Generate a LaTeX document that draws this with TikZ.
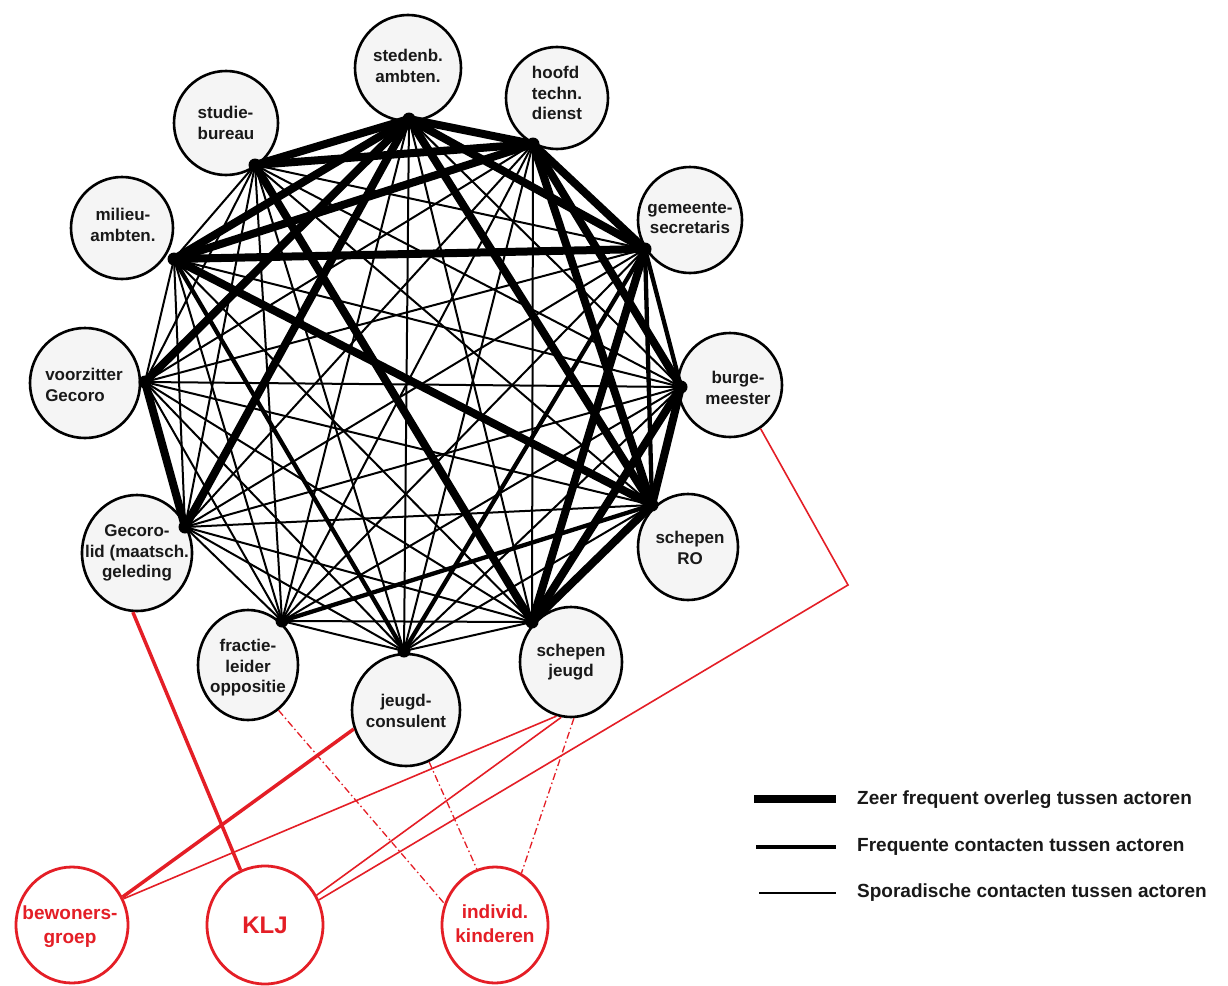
\documentclass[tikz,border=0pt]{standalone}
\usepackage{fontspec}
\setmainfont{Liberation Sans}
\usetikzlibrary{shapes.geometric}
\definecolor{lred}{RGB}{228,30,38}
\definecolor{cfill}{RGB}{245,245,245}
\tikzset{
  actor/.style={ellipse, draw=black, line width=2.6pt, fill=cfill, inner sep=0pt},
  ractor/.style={ellipse, draw=lred, line width=2.8pt, fill=white, inner sep=0pt},
  ntext/.style={inner sep=0pt, align=center, font=\fontsize{17}{20.5}\selectfont\bfseries, text=black!90},
  rtext/.style={inner sep=0pt, align=center, font=\fontsize{19}{24}\selectfont\bfseries, text=lred},
  ltext/.style={inner sep=0pt, anchor=west, font=\fontsize{19}{22}\selectfont\bfseries, text=black!90},
  vthick/.style={line width=8pt, line cap=round},
  freq/.style={line width=4.3pt, line cap=round},
  spor/.style={line width=2pt},
  rthick/.style={draw=lred, line width=3.5pt},
  rthin/.style={draw=lred, line width=1.6pt},
  rdash/.style={draw=lred, line width=1.3pt, dash pattern=on 7pt off 3pt on 1.5pt off 3pt},
}
\begin{document}
\begin{tikzpicture}[x=1pt,y=-1pt]
\useasboundingbox (0,0) rectangle (1228,985);
\fill[white] (0,0) rectangle (1228,985);

% actor circles
\node[actor, minimum width=106pt, minimum height=106pt] (sted) at (408,68) {};
\node[actor, minimum width=102pt, minimum height=102pt] (hoofd) at (557,98) {};
\node[actor, minimum width=104pt, minimum height=106pt] (gem) at (690,220) {};
\node[actor, minimum width=104pt, minimum height=104pt] (burg) at (730,385) {};
\node[actor, minimum width=100pt, minimum height=106pt] (sro) at (688,547) {};
\node[actor, minimum width=102pt, minimum height=110pt] (sjeugd) at (571,662) {};
\node[actor, minimum width=108pt, minimum height=112pt] (jc) at (406,710) {};
\node[actor, minimum width=100pt, minimum height=110pt] (fract) at (248,665) {};
\node[actor, minimum width=110pt, minimum height=116pt] (glid) at (137,553) {};
\node[actor, minimum width=110pt, minimum height=110pt] (voorz) at (85,383) {};
\node[actor, minimum width=102pt, minimum height=102pt] (milieu) at (122,228) {};
\node[actor, minimum width=104pt, minimum height=104pt] (studie) at (226,123) {};

% texts
\node[ntext] (sted-t) at (408,66) {stedenb.\\ambten.};
\node[ntext, align=left] (hoofd-t) at (557,93) {hoofd\\techn.\\dienst};
\node[ntext] (gem-t) at (690,218) {gemeente-\\secretaris};
\node[ntext] (burg-t) at (738,388) {burge-\\meester};
\node[ntext] (sro-t) at (690,548) {schepen\\RO};
\node[ntext] (sjeugd-t) at (571,662) {schepen\\jeugd};
\node[ntext] (jc-t) at (406,711) {jeugd-\\consulent};
\node[ntext] (fract-t) at (248,668) {fractie-\\leider\\oppositie};
\node[ntext] (glid-t) at (137,553) {Gecoro-\\lid (maatsch.\\geleding};
\node[ntext, align=left] (voorz-t) at (84,385) {voorzitter\\Gecoro};
\node[ntext] (milieu-t) at (123,225) {milieu-\\ambten.};
\node[ntext, align=left] (studie-t) at (226,123) {studie-\\bureau};

% vertices
\coordinate (vA) at (409,119);
\coordinate (vB) at (533,144);
\coordinate (vC) at (645,249);
\coordinate (vD) at (681,387);
\coordinate (vE) at (652,505);
\coordinate (vF) at (532,622);
\coordinate (vG) at (404,651);
\coordinate (vH) at (282,621);
\coordinate (vI) at (185,527);
\coordinate (vJ) at (145,382);
\coordinate (vK) at (174,259);
\coordinate (vL) at (255,165);

% sporadic contacts
\foreach \a/\b in {vA/vD, vA/vF, vA/vG, vA/vH, vB/vF, vB/vG, vB/vH, vB/vI, vB/vJ,
  vC/vH, vC/vI, vC/vJ, vC/vL, vD/vG, vD/vH, vD/vI, vD/vJ, vD/vK, vD/vL,
  vE/vG, vE/vI, vE/vJ, vE/vL, vF/vG, vF/vH, vF/vI, vF/vJ, vF/vK,
  vG/vH, vG/vI, vG/vJ, vG/vL, vH/vI, vH/vJ, vH/vK, vH/vL, vI/vK, vI/vL, vJ/vK, vJ/vL, vK/vL}
  \draw[spor] (\a) -- (\b);
% frequent contacts
\foreach \a/\b in {vC/vD, vC/vE, vC/vG, vG/vK, vE/vH}
  \draw[freq] (\a) -- (\b);
% very frequent
\foreach \a/\b in {vA/vB, vA/vC, vA/vE, vA/vI, vA/vJ, vA/vK, vA/vL, vB/vC, vB/vD, vB/vE,
  vB/vK, vB/vL, vC/vK, vC/vF, vD/vE, vD/vF, vE/vF, vE/vK, vF/vL, vI/vJ}
  \draw[vthick] (\a) -- (\b);
\foreach \v in {vA,vB,vC,vD,vE,vF,vG,vH,vI,vJ,vK,vL}
  \fill (\v) circle (6.5pt);

% red actors
\node[ractor, minimum width=112pt, minimum height=116pt] (bew) at (72,925) {};
\node[ractor, minimum width=116pt, minimum height=118pt] (klj) at (265,925) {};
\node[ractor, minimum width=106pt, minimum height=116pt] (ind) at (495,925) {};
\node[rtext] (bew-t) at (70,927) {bewoners-\\groep};
\node[rtext, font=\fontsize{24}{28}\selectfont\bfseries] (klj-t) at (265,925) {KLJ};
\node[rtext] (ind-t) at (495,924) {individ.\\kinderen};

% red connectors
\coordinate (bend) at (848,585);
\draw[rthick] (glid.266) -- (klj.114);
\draw[rthick] (jc.200) -- (bew.29);
\draw[rthin] (sjeugd.255) -- (bew.27);
\draw[rthin] (sjeugd.260) -- (klj.30);
\draw[rthin] (burg.305) -- (bend) -- (klj.25);
\draw[rdash] (fract.304) -- (ind.157);
\draw[rdash] (jc.294) -- (ind.108);
\draw[rdash] (sjeugd.273) -- (ind.63);

% legend
\coordinate (lg1a) at (754,799); \coordinate (lg1b) at (836,799);
\coordinate (lg2a) at (756,847); \coordinate (lg2b) at (836,847);
\coordinate (lg3a) at (759,893); \coordinate (lg3b) at (836,893);
\draw[line width=8pt] (lg1a) -- (lg1b);
\draw[line width=4.5pt] (lg2a) -- (lg2b);
\draw[line width=2pt] (lg3a) -- (lg3b);
\node[ltext] (lg1t) at (857,800) {Zeer frequent overleg tussen actoren};
\node[ltext] (lg2t) at (857,847) {Frequente contacten tussen actoren};
\node[ltext] (lg3t) at (857,893) {Sporadische contacten tussen actoren};
\end{tikzpicture}
\end{document}
